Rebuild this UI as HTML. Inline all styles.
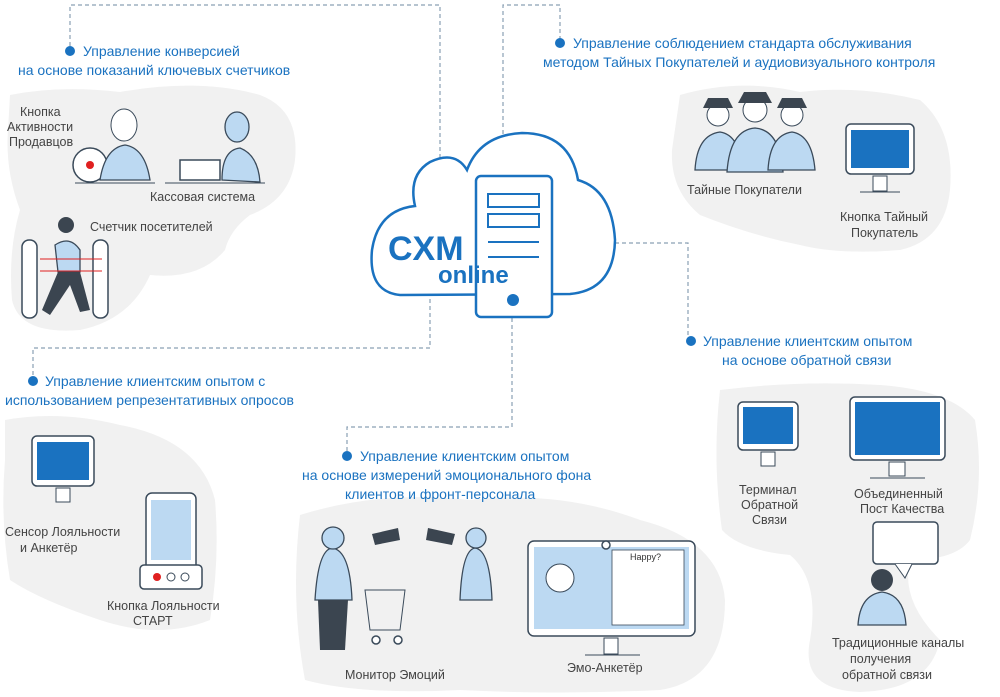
<!DOCTYPE html>
<html><head><meta charset="utf-8"><style>
body{margin:0;background:#fff;width:1000px;height:697px;overflow:hidden}
svg{display:block}
.h{font-family:"Liberation Sans",sans-serif;font-size:14px;fill:#1a72c0}
.l{font-family:"Liberation Sans",sans-serif;font-size:12.5px;fill:#444}
.bl{fill:#bcd9f2;stroke:#3a4a5a;stroke-width:1.3}
.dk{fill:#3b4550}
.sc{fill:#fff;stroke:#3a4a5a;stroke-width:1.5}
.d{stroke:#8aa0b4;stroke-width:1.2;stroke-dasharray:4 3;fill:none}
</style></head><body>
<svg width="1000" height="697" viewBox="0 0 1000 697">
<g fill="#f1f1f1">
<path d="M10 95 Q60 85 120 92 Q200 78 260 95 Q300 110 295 160 Q290 200 250 215 Q230 230 225 250 Q200 280 150 275 Q130 320 80 330 Q20 335 12 300 Q8 250 20 210 Q5 170 8 130 Z"/>
<path d="M680 95 Q740 78 800 92 Q860 85 920 100 Q955 130 950 190 Q945 240 900 250 Q840 255 800 245 Q750 235 700 215 Q670 190 672 150 Z"/>
<path d="M5 420 Q60 410 120 425 Q200 440 215 500 Q220 560 210 620 Q160 640 100 620 Q40 600 10 580 Q0 520 5 460 Z"/>
<path d="M300 515 Q380 490 470 500 Q560 490 640 520 Q720 540 725 600 Q725 680 660 690 Q560 695 460 690 Q360 695 305 680 Q290 600 300 515 Z"/>
<path d="M720 390 Q800 380 880 385 Q950 390 975 420 Q985 480 970 540 Q955 560 910 560 Q900 600 940 640 Q930 690 860 692 Q800 690 810 640 Q820 580 790 555 Q740 550 722 530 Q712 460 720 390 Z"/>
</g>
<path class="d" d="M70 46 V5 H440 V160"/>
<path class="d" d="M560 40 V5 H503 V135"/>
<path class="d" d="M615 243 H688 V336"/>
<path class="d" d="M430 292 V348 H33 V378"/>
<path class="d" d="M512 318 V427 H347 V452"/>
<g fill="#1a72c0"><circle cx="70" cy="51" r="5"/><circle cx="560" cy="43" r="5"/><circle cx="691" cy="341" r="5"/><circle cx="33" cy="381" r="5"/><circle cx="347" cy="456" r="5"/></g>
<text class="h" x="83" y="56">Управление конверсией</text>
<text class="h" x="18" y="75">на основе показаний ключевых счетчиков</text>
<text class="h" x="573" y="48">Управление соблюдением стандарта обслуживания</text>
<text class="h" x="543" y="67">методом Тайных Покупателей и аудиовизуального контроля</text>
<text class="h" x="703" y="346">Управление клиентским опытом</text>
<text class="h" x="722" y="365">на основе обратной связи</text>
<text class="h" x="45" y="386">Управление клиентским опытом с</text>
<text class="h" x="5" y="405">использованием репрезентативных опросов</text>
<text class="h" x="360" y="461">Управление клиентским опытом</text>
<text class="h" x="302" y="480">на основе измерений эмоционального фона</text>
<text class="h" x="345" y="499">клиентов и фронт-персонала</text>
<path d="M400 295 Q368 292 372 250 Q378 210 415 206 Q408 175 430 162 Q455 150 467 170 Q480 135 522 133 Q570 133 578 180 Q612 190 615 240 Q614 290 570 294 Z" fill="#fff" stroke="#1a72c0" stroke-width="2.5"/>
<rect x="476" y="176" width="76" height="141" rx="5" fill="#fff" stroke="#1a72c0" stroke-width="2.5"/>
<rect x="488" y="194" width="51" height="13" fill="none" stroke="#1a72c0" stroke-width="2"/>
<rect x="488" y="214" width="51" height="13" fill="none" stroke="#1a72c0" stroke-width="2"/>
<line x1="488" y1="242" x2="539" y2="242" stroke="#1a72c0" stroke-width="2"/>
<line x1="488" y1="257" x2="539" y2="257" stroke="#1a72c0" stroke-width="2"/>
<circle cx="513" cy="300" r="6" fill="#1a72c0"/>
<text x="388" y="260" font-family="Liberation Sans,sans-serif" font-weight="bold" font-size="34" fill="#1a72c0">CXM</text>
<text x="438" y="283" font-family="Liberation Sans,sans-serif" font-weight="bold" font-size="24" fill="#1a72c0">online</text>
<text class="l" x="20" y="116">Кнопка</text><text class="l" x="7" y="131">Активности</text><text class="l" x="9" y="146">Продавцов</text>
<circle cx="90" cy="165" r="17" class="sc"/><circle cx="90" cy="165" r="4" fill="#e02020"/>
<path class="bl" d="M100 180 Q105 148 125 145 Q145 148 150 180 Z"/><ellipse cx="124" cy="125" rx="13" ry="16" fill="#fff" stroke="#3a4a5a"/>
<path class="bl" d="M222 180 Q222 150 240 148 Q258 155 260 182 Z"/><ellipse cx="237" cy="127" rx="12" ry="15" class="bl"/>
<rect x="180" y="160" width="40" height="20" class="sc"/>
<line x1="75" y1="183" x2="155" y2="183" stroke="#3a4a5a"/><line x1="165" y1="183" x2="265" y2="183" stroke="#3a4a5a"/>
<text class="l" x="150" y="201">Кассовая система</text>
<text class="l" x="90" y="231">Счетчик посетителей</text>
<rect x="22" y="240" width="15" height="78" rx="7" class="sc"/><rect x="93" y="240" width="15" height="78" rx="7" class="sc"/>
<path class="bl" d="M55 245 Q70 235 80 250 L80 272 L58 272 Z"/><circle cx="66" cy="225" r="8" class="dk"/>
<path class="dk" d="M58 272 L80 272 L90 310 L80 312 L70 285 L50 315 L42 310 Z"/>
<line x1="40" y1="259" x2="102" y2="259" stroke="#e02020"/><line x1="40" y1="271" x2="102" y2="271" stroke="#e02020"/>
<g><path class="bl" d="M695 170 Q697 135 720 132 Q740 135 742 170 Z"/><circle cx="718" cy="115" r="11" fill="#fff" stroke="#3a4a5a"/><path class="dk" d="M703 108 L733 108 L728 98 L708 98 Z"/>
<path class="bl" d="M727 172 Q730 130 755 128 Q780 130 783 172 Z"/><circle cx="755" cy="110" r="12" fill="#fff" stroke="#3a4a5a"/><path class="dk" d="M738 103 L772 103 L766 92 L744 92 Z"/>
<path class="bl" d="M768 170 Q770 135 792 132 Q812 135 815 170 Z"/><circle cx="792" cy="115" r="11" fill="#fff" stroke="#3a4a5a"/><path class="dk" d="M777 108 L807 108 L802 98 L782 98 Z"/></g>
<text class="l" x="687" y="194">Тайные Покупатели</text>
<rect x="846" y="124" width="68" height="50" rx="5" class="sc"/><rect x="851" y="130" width="58" height="38" fill="#1a72c0"/><rect x="873" y="176" width="14" height="15" fill="#fff" stroke="#3a4a5a"/><line x1="860" y1="192" x2="900" y2="192" stroke="#3a4a5a"/>
<text class="l" x="840" y="221">Кнопка Тайный</text><text class="l" x="851" y="237">Покупатель</text>
<rect x="32" y="436" width="62" height="50" rx="5" class="sc"/><rect x="37" y="442" width="52" height="38" fill="#1a72c0"/><rect x="56" y="488" width="14" height="14" fill="#fff" stroke="#3a4a5a"/>
<text class="l" x="5" y="536">Сенсор Лояльности</text><text class="l" x="20" y="552">и Анкетёр</text>
<rect x="146" y="493" width="50" height="90" rx="6" class="sc"/><rect x="151" y="500" width="40" height="60" fill="#bcd9f2"/>
<rect x="140" y="565" width="62" height="24" rx="4" class="sc"/><circle cx="157" cy="577" r="4" fill="#e02020"/><circle cx="171" cy="577" r="4" fill="#fff" stroke="#3a4a5a"/><circle cx="185" cy="577" r="4" fill="#fff" stroke="#3a4a5a"/>
<text class="l" x="107" y="610">Кнопка Лояльности</text><text class="l" x="133" y="625">СТАРТ</text>
<path class="bl" d="M315 600 Q318 550 332 548 Q350 550 352 600 Z"/><circle cx="333" cy="538" r="11" class="bl"/><path class="dk" d="M318 600 L348 600 L345 650 L320 650 Z"/>
<path d="M365 590 L405 590 L400 630 L370 630 Z" fill="none" stroke="#3a4a5a"/><circle cx="376" cy="640" r="4" class="sc"/><circle cx="398" cy="640" r="4" class="sc"/>
<path class="dk" d="M372 534 L398 528 L400 540 L375 545 Z"/><path class="dk" d="M428 528 L455 534 L452 545 L426 540 Z"/>
<path class="bl" d="M460 600 Q462 550 475 548 Q490 550 492 600 Z"/><circle cx="476" cy="538" r="10" class="bl"/>
<text class="l" x="345" y="679">Монитор Эмоций</text>
<rect x="528" y="541" width="167" height="95" rx="6" class="sc"/><rect x="534" y="547" width="155" height="82" fill="#bcd9f2"/>
<rect x="612" y="550" width="72" height="75" fill="#fff" stroke="#3a4a5a" stroke-width=".8"/><text x="630" y="560" font-family="Liberation Sans,sans-serif" font-size="9" fill="#333">Happy?</text>
<circle cx="560" cy="578" r="14" fill="#fff" stroke="#3a4a5a"/><circle cx="606" cy="545" r="4" class="sc"/>
<rect x="604" y="638" width="14" height="16" fill="#fff" stroke="#3a4a5a"/><line x1="585" y1="655" x2="640" y2="655" stroke="#3a4a5a"/>
<text class="l" x="567" y="672">Эмо-Анкетёр</text>
<rect x="738" y="402" width="60" height="48" rx="5" class="sc"/><rect x="743" y="407" width="50" height="37" fill="#1a72c0"/><rect x="761" y="452" width="14" height="14" fill="#fff" stroke="#3a4a5a"/>
<text class="l" x="739" y="494">Терминал</text><text class="l" x="741" y="509">Обратной</text><text class="l" x="752" y="524">Связи</text>
<rect x="850" y="397" width="95" height="63" rx="5" class="sc"/><rect x="855" y="402" width="85" height="53" fill="#1a72c0"/><rect x="889" y="462" width="16" height="14" fill="#fff" stroke="#3a4a5a"/><line x1="870" y1="478" x2="925" y2="478" stroke="#3a4a5a"/>
<text class="l" x="854" y="498">Объединенный</text><text class="l" x="860" y="513">Пост Качества</text>
<rect x="873" y="522" width="65" height="42" rx="4" class="sc"/><path d="M895 564 L905 578 L912 564" fill="#fff" stroke="#3a4a5a"/>
<path class="bl" d="M858 625 Q860 595 882 592 Q904 595 906 625 Z"/><circle cx="882" cy="580" r="11" class="dk"/>
<text class="l" x="832" y="647">Традиционные каналы</text><text class="l" x="850" y="663">получения</text><text class="l" x="842" y="679">обратной связи</text>
</svg>
</body></html>
